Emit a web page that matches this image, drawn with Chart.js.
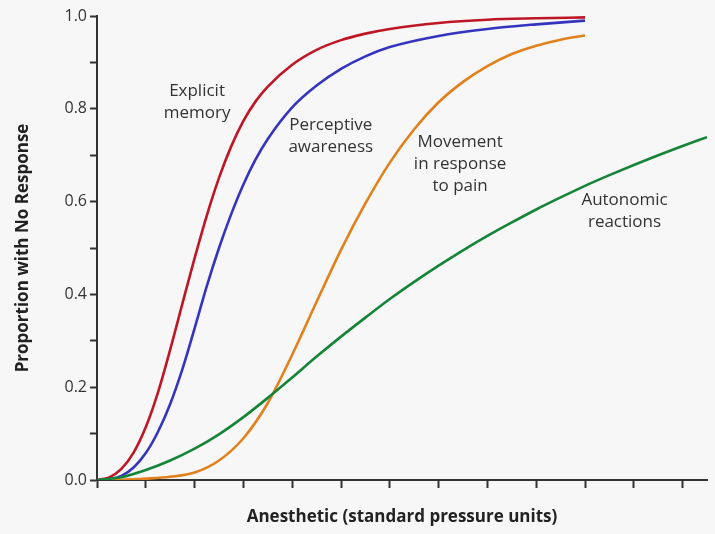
<!DOCTYPE html>
<html>
<head>
<meta charset="utf-8">
<script src="https://cdn.jsdelivr.net/npm/chart.js@4/dist/chart.umd.min.js"></script>
<style>
  html, body { margin: 0; padding: 0; background: #f7f7f7; }
  #wrap { width: 715px; height: 534px; position: relative; }
</style>
</head>
<body>
<div id="wrap"><canvas id="myChart"></canvas></div>
<script>
// doses (standard pressure units, one unit per tick)
const doseFine = [0, 0.25, 0.5, 0.75, 1, 1.25, 1.5, 1.75, 2, 2.25, 2.5, 2.75, 3, 3.25, 3.5, 4, 4.5, 5, 5.5, 6, 7, 8, 9, 10];
const doseHalf = [0, 0.5, 1, 1.5, 2, 2.5, 3, 3.5, 4, 4.5, 5, 5.5, 6, 6.5, 7, 7.5, 8, 8.5, 9, 9.5, 10];
const doseLong = [0, 0.5, 1, 1.5, 2, 2.5, 3, 3.5, 4, 4.5, 5, 5.5, 6, 6.5, 7, 7.5, 8, 8.5, 9, 9.5, 10, 10.5, 11, 11.5, 12, 12.5];

// proportion with no response
const explicitMemory = [0, 0.0056, 0.024, 0.059, 0.114, 0.189, 0.281, 0.38, 0.478, 0.57, 0.651, 0.719, 0.774, 0.816, 0.848, 0.895, 0.927, 0.948, 0.962, 0.972, 0.985, 0.992, 0.995, 0.997];
const perceptiveAwareness = [0, 0.002, 0.009, 0.027, 0.058, 0.104, 0.164, 0.239, 0.327, 0.418, 0.5, 0.573, 0.637, 0.691, 0.735, 0.803, 0.85, 0.886, 0.913, 0.933, 0.957, 0.972, 0.982, 0.99];
const movementPain = [0, 0.0005, 0.003, 0.007, 0.016, 0.042, 0.09, 0.166, 0.27, 0.384, 0.496, 0.596, 0.684, 0.756, 0.814, 0.858, 0.892, 0.918, 0.936, 0.949, 0.958];
const autonomic = [0, 0.006, 0.0215, 0.042, 0.0675, 0.0985, 0.1355, 0.177, 0.221, 0.266, 0.309, 0.35, 0.39, 0.427, 0.462, 0.495, 0.526, 0.555, 0.583, 0.609, 0.634, 0.657, 0.679, 0.7, 0.72, 0.739];

const yTicks = [0, 0.2, 0.4, 0.6, 0.8, 1.0];

function pts(xs, ys) {
    return xs.map((x, i) => ({x: x, y: ys[i]}));
}

// curve labels, anchored in data units (first line)
const curveLabels = [
    {lines: ['Explicit', 'memory'], x: 2.05, y: 0.838},
    {lines: ['Perceptive', 'awareness'], x: 4.79, y: 0.765},
    {lines: ['Movement', 'in response', 'to pain'], x: 7.44, y: 0.728},
    {lines: ['Autonomic', 'reactions'], x: 10.81, y: 0.603}
];

const labelPlugin = {
    id: 'curveLabels',
    afterDatasetsDraw(chart) {
        const ctx = chart.ctx;
        const xs = chart.scales.x, ys = chart.scales.y;
        ctx.save();
        ctx.font = '17px "Open Sans"';
        ctx.fillStyle = '#333';
        ctx.textAlign = 'center';
        ctx.textBaseline = 'middle';
        curveLabels.forEach(l => {
            const px = xs.getPixelForValue(l.x);
            const py = ys.getPixelForValue(l.y);
            l.lines.forEach((t, i) => ctx.fillText(t, px, py + i * 22));
        });
        ctx.restore();
    }
};

const lineStyle = {
    pointRadius: 0,
    borderWidth: 2.6,
    fill: false,
    cubicInterpolationMode: 'monotone'
};

const ctx = document.getElementById('myChart').getContext('2d');
const myChart = new Chart(ctx, {
    type: 'line',
    data: {
        datasets: [
            {...lineStyle, label: 'Autonomic reactions', data: pts(doseLong, autonomic), borderColor: 'rgb(22,132,56)'},
            {...lineStyle, label: 'Movement in response to pain', data: pts(doseHalf, movementPain), borderColor: 'rgb(226,128,28)'},
            {...lineStyle, label: 'Perceptive awareness', data: pts(doseFine, perceptiveAwareness), borderColor: 'rgb(52,52,190)'},
            {...lineStyle, label: 'Explicit memory', data: pts(doseFine, explicitMemory), borderColor: 'rgb(190,22,36)'}
        ]
    },
    plugins: [labelPlugin],
    options: {
        responsive: true,
        maintainAspectRatio: false,
        animation: false,
        layout: {padding: {top: 16, right: 8, left: 0, bottom: 0}},
        plugins: {
            legend: {display: false},
            tooltip: {enabled: false}
        },
        scales: {
            x: {
                type: 'linear',
                min: 0,
                max: 12.5,
                afterFit: s => { s.height = 54; },
                border: {display: true, color: '#333', width: 2},
                grid: {drawOnChartArea: false, drawTicks: true, tickLength: 8, tickColor: '#333', tickWidth: 2},
                ticks: {stepSize: 1, includeBounds: false, autoSkip: false, callback: () => ''},
                title: {
                    display: true,
                    text: 'Anesthetic (standard pressure units)',
                    color: '#222',
                    font: {family: 'Open Sans', size: 17, weight: 'bold'},
                    padding: {top: 0, bottom: 7}
                }
            },
            y: {
                min: 0,
                max: 1,
                afterFit: s => { s.width = 97; },
                border: {display: true, color: '#333', width: 2},
                grid: {drawOnChartArea: false, drawTicks: true, tickLength: 7, tickColor: '#333', tickWidth: 2},
                ticks: {
                    stepSize: 0.1,
                    autoSkip: false,
                    padding: 3,
                    color: '#333',
                    font: {family: 'Open Sans', size: 16},
                    callback: v => yTicks.some(t => Math.abs(t - v) < 1e-6) ? v.toFixed(1) : ''
                },
                title: {
                    display: true,
                    text: 'Proportion with No Response',
                    color: '#222',
                    font: {family: 'Open Sans', size: 17, weight: 'bold'},
                    padding: {top: 13, bottom: 0}
                }
            }
        }
    }
});
</script>
</body>
</html>
